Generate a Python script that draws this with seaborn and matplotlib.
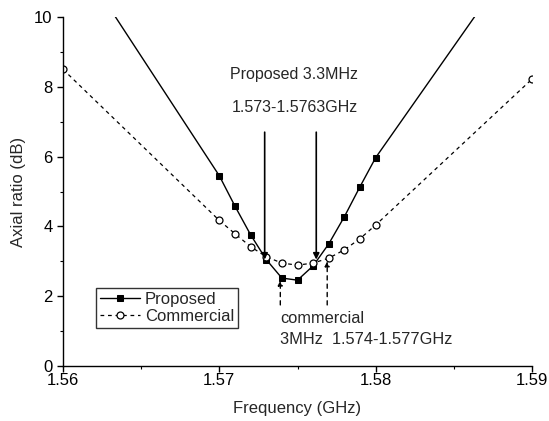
import matplotlib
matplotlib.use("Agg")
import matplotlib.pyplot as plt
from matplotlib.ticker import MultipleLocator, FormatStrFormatter
import seaborn as sns
import pandas as pd

# Axial ratio vs frequency
freq_proposed = [1.560, 1.570, 1.571, 1.572, 1.573, 1.574, 1.575, 1.576,
                 1.577, 1.578, 1.579, 1.580, 1.590]
ar_proposed = [12.3, 5.45, 4.58, 3.76, 3.05, 2.52, 2.46, 2.87,
               3.50, 4.28, 5.14, 5.97, 12.35]

freq_commercial = [1.560, 1.570, 1.571, 1.572, 1.573, 1.574, 1.575, 1.576,
                   1.577, 1.578, 1.579, 1.580, 1.590]
ar_commercial = [8.5, 4.17, 3.79, 3.42, 3.13, 2.95, 2.89, 2.95,
                 3.09, 3.33, 3.65, 4.04, 8.22]

series_names = ["Proposed", "Commercial"]
x_ticks = [1.56, 1.57, 1.58, 1.59]
y_ticks = [0, 2, 4, 6, 8, 10]

df_p = pd.DataFrame({"f": freq_proposed, "ar": ar_proposed})
df_c = pd.DataFrame({"f": freq_commercial, "ar": ar_commercial})

sns.set_style("ticks")
plt.rcParams["font.family"] = ["Liberation Sans", "DejaVu Sans"]

fig = plt.figure(figsize=(5.49, 4.21), dpi=100)
ax = fig.add_axes([0.1148, 0.1306, 0.8542, 0.829])

sns.lineplot(data=df_p, x="f", y="ar", ax=ax, color="black", lw=1.0,
             marker="s", markersize=5, markerfacecolor="black",
             markeredgecolor="black", label=series_names[0], sort=False)
sns.lineplot(data=df_c, x="f", y="ar", ax=ax, color="black", lw=0.9,
             linestyle=(0, (3, 3)), marker="o", markersize=5,
             markerfacecolor="white", markeredgecolor="black",
             markeredgewidth=0.9, label=series_names[1], sort=False)

ax.set_xlim(1.56, 1.59)
ax.set_ylim(0, 10)
ax.set_xticks(x_ticks)
ax.set_yticks(y_ticks)
ax.xaxis.set_major_formatter(FormatStrFormatter("%.2f"))
ax.yaxis.set_major_formatter(FormatStrFormatter("%d"))
ax.xaxis.set_minor_locator(MultipleLocator(0.005))
ax.yaxis.set_minor_locator(MultipleLocator(1))
ax.tick_params(axis="both", which="major", length=4.5, width=1,
               labelsize=12, color="black", labelcolor="black")
ax.tick_params(axis="x", which="major", pad=0.8)
ax.tick_params(axis="y", which="major", pad=3)
ax.tick_params(axis="both", which="minor", length=2.5, width=0.8, color="black")
for s in ["top", "right"]:
    ax.spines[s].set_visible(False)
for s in ["left", "bottom"]:
    ax.spines[s].set_color("black")
    ax.spines[s].set_linewidth(1.0)

ax.set_xlabel("Frequency (GHz)", fontsize=12, labelpad=9)
ax.set_ylabel("Axial ratio (dB)", fontsize=12, labelpad=6)

# Bandwidth markers for the proposed antenna
ax.text(1.5748, 8.35, "Proposed 3.3MHz", ha="center", va="center", fontsize=11.5)
ax.text(1.5748, 7.4, "1.573-1.5763GHz", ha="center", va="center", fontsize=11.5)
for xa in (1.5729, 1.5762):
    ax.annotate("", xy=(xa, 3.05), xytext=(xa, 6.7),
                arrowprops=dict(arrowstyle="-|>", color="black", lw=1.2,
                                mutation_scale=9, shrinkA=0, shrinkB=0))

# Bandwidth markers for the commercial antenna
ax.annotate("", xy=(1.5739, 2.45), xytext=(1.5739, 1.75),
            arrowprops=dict(arrowstyle="-|>", color="black", lw=1.0,
                            linestyle=(0, (3, 3)), mutation_scale=7,
                            shrinkA=0, shrinkB=0))
ax.annotate("", xy=(1.5769, 3.0), xytext=(1.5769, 1.75),
            arrowprops=dict(arrowstyle="-|>", color="black", lw=1.0,
                            linestyle=(0, (3, 3)), mutation_scale=7,
                            shrinkA=0, shrinkB=0))
ax.text(1.5739, 1.37, "commercial", ha="left", va="center", fontsize=11.8)
ax.text(1.5739, 0.75, "3MHz  1.574-1.577GHz", ha="left", va="center", fontsize=11.8)

leg = ax.legend(loc="lower left", bbox_to_anchor=(0.07, 0.109),
                borderaxespad=0, frameon=True, fancybox=False,
                fontsize=12, handlelength=2.4, handletextpad=0.3,
                labelspacing=0.1, borderpad=0.25)
leg.get_frame().set_edgecolor("black")
leg.get_frame().set_linewidth(1.0)

fig.savefig("out.png", dpi=100, facecolor="white")
